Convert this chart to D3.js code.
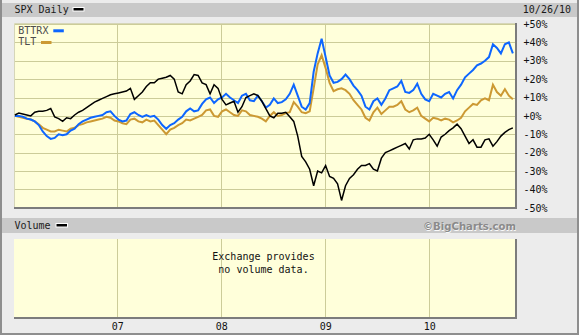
<!DOCTYPE html>
<html>
<head>
<meta charset="utf-8">
<script src="https://cdn.jsdelivr.net/npm/d3@7"></script>
<style>
  html, body { margin: 0; padding: 0; background: #ececec; }
  svg { display: block; }
</style>
</head>
<body>
<svg id="chart" width="579" height="335"></svg>
<script>
// Percent change since the first bar, one reading every two weeks.
const spx = [
  0.5, 1.5, 1, 0.5, 0, 2, 2.5, 2.5, 3, 4,
  -0.5, -1.5, -3, -1, -1.5, 0.5, 2, 3, 4.5, 6,
  7.5, 8.5, 9.5, 10.5, 11.5, 12, 12.5, 13, 13.5, 15,
  9, 11, 13,
  16, 18, 18, 20, 20.5, 21, 22, 20, 13, 12,
  17, 19, 22.5, 22, 18, 17, 12, 17, 15, 9,
  6, 7, 8, 2, 5, 10, 11, 12, 11, 8,
  4,
  0, -1, 1.5, 1.5, 2, -0.5, -3, -11, -22, -25,
  -29, -38, -30, -31, -27, -33, -34, -37, -46, -38,
  -34, -32, -29, -27, -27, -26, -29, -30, -23, -20,
  -19,
  -18, -17, -16, -15, -18, -13, -12.5, -12.5, -12, -10,
  -13, -16.5, -11.5, -10, -8, -6.5, -4.5, -7, -11, -15,
  -13, -17, -17, -13, -12.5, -16.5, -14, -11, -9, -7.5,
  -6.5
];
const bttrx = [
  0, 0, -0.5, -1.5, -2, -3, -5, -8.5, -11, -12.5,
  -12, -10, -10.5, -10, -8, -7, -4.5, -3, -2, -1,
  -0.5, 0, 0.5, 2, 2.5, 0, -2, -3, -2.5, 1,
  2, 0.5, -0.5,
  0.5, -0.5, 0, -2, -5, -7, -5, -4, -2, -0.5,
  2.5, 4, 2.5, 3, 6.5, 9, 10, 7, 9, 10,
  12, 10, 8.5, 7, 11, 12, 8.5, 8, 11, 8,
  4.5,
  6, 9.5, 7, 7.5, 9, 12, 17, 11, 5, 3.5,
  7, 24, 34, 42, 32, 22, 18, 18.5, 20, 22.5,
  20, 16.5, 14, 11, 5, 3.5, 8, 9.5, 6, 9.5,
  14,
  15, 16, 19, 13, 12.5, 14, 17.5, 12, 9, 8,
  12, 11, 10, 12, 13, 9.5, 14, 17, 21, 23,
  25, 27.5, 28.5, 30, 32, 39, 37, 34, 39, 40,
  34
];
const tlt = [
  0, -0.5, -1, -1.5, -2, -3, -4.5, -6.5, -7.5, -8.5,
  -8.5, -7.5, -8, -8.5, -7, -6.5, -5, -4.5, -3.5, -3,
  -2.5, -2, -1.5, -0.5, -1, -2.5, -3, -4, -4.5, -2,
  -1.5, -3, -3.5,
  -2, -3, -2.5, -5, -7.5, -10, -7.5, -6.5, -5, -4,
  -2, -2.5, -1.5, -0.5, 0.5, 3, 3.5, 0, -0.5, 2.5,
  3.5, 2, 0.5, 0, 3, 2.5, 0.5, 0, -0.5, -1.5,
  -3,
  0, 2, 0, 0.5, 1.5, 2, 7.5, 5, 2, 1.5,
  2.5, 15, 28, 33, 26, 18, 13.5, 14.5, 15, 14,
  12, 8.5, 6, 3.5, -1, -2.5, 2, 4.5, 1, 3,
  5,
  5, 6, 8, 3.5, 2, 3, 4.5, 0, -1.5, -3,
  -1, -1.5, -2.5, -1.5, -2, -3.5, -2.5, -1, 2.5, 4.5,
  6.5, 6, 8.5, 9.5, 8.5, 17, 13, 11, 14.5, 11,
  9
];

const seriesNames = ["TLT", "BTTRX", "SPX"];
const seriesColors = ["#cc9933", "#0d66ff", "#000000"];
const seriesWidths = [2, 2, 1.5];

const firstDate = "2006-01-06";
const stepDays = 14;
const rangeStart = "2006-01-03";
const rangeEnd = "2010-10-26";
const asOfLabel = "10/26/10";

const yTicks = [50, 40, 30, 20, 10, 0, -10, -20, -30, -40, -50];
const yearTicks = ["2007-01-01", "2008-01-01", "2009-01-01", "2010-01-01"];
const yearLabels = ["07", "08", "09", "10"];

const parse = d3.utcParse("%Y-%m-%d");
const dates = spx.map((_, i) => d3.utcDay.offset(parse(firstDate), i * stepDays));
const tickDates = yearTicks.map(parse);

const W = 579, H = 335;
const plot = { left: 14, right: 516, top: 23, bottom: 208 };
const vol = { top: 239, bottom: 318 };

const x = d3.scaleUtc().domain([parse(rangeStart), parse(rangeEnd)]).range([14, 514]);
const y = d3.scaleLinear().domain([-50, 50]).range([207.8, 24]);

const svg = d3.select("#chart");
const mono = "'DejaVu Sans Mono', monospace";
const crisp = v => Math.round(v) + 0.5;

// page background and outer frame
svg.append("rect").attr("width", W).attr("height", H).attr("fill", "#ececec");
svg.append("path")
  .attr("d", `M1,0 V${H - 1} H${W - 1} V0`)
  .attr("fill", "none").attr("stroke", "#8e8e8e").attr("stroke-width", 2);

// title band
svg.append("rect").attr("x", 2).attr("y", 3).attr("width", W - 4).attr("height", 14).attr("fill", "#c9c9c9");
svg.append("text").attr("x", 14.5).attr("y", 13.3)
  .attr("font-family", mono).attr("font-size", 10).attr("fill", "#1a1a1a").text("SPX Daily");
svg.append("rect").attr("x", 73).attr("y", 7.5).attr("width", 11).attr("height", 3.5)
  .attr("fill", "#000").attr("stroke", "#fff").attr("stroke-width", 1);
svg.append("text").attr("x", 571).attr("y", 13).attr("text-anchor", "end")
  .attr("font-family", mono).attr("font-size", 10).attr("fill", "#1a1a1a").text(asOfLabel);

// price panel
svg.append("rect").attr("x", plot.left).attr("y", plot.top)
  .attr("width", plot.right - plot.left).attr("height", plot.bottom - plot.top)
  .attr("fill", "#ffffda");

const grid = svg.append("g").attr("stroke", "#cccc99").attr("stroke-width", 1);
grid.selectAll("line.h").data(yTicks.filter(d => d > -50)).join("line")
  .attr("x1", plot.left).attr("x2", plot.right)
  .attr("y1", d => crisp(y(d))).attr("y2", d => crisp(y(d)));
grid.selectAll("line.v").data(tickDates).join("line")
  .attr("x1", d => crisp(x(d))).attr("x2", d => crisp(x(d)))
  .attr("y1", plot.top).attr("y2", plot.bottom);

svg.append("path")
  .attr("d", `M${plot.left + 0.5},${plot.bottom} V${plot.top + 0.5} H${plot.right}`)
  .attr("fill", "none").attr("stroke", "#d6d6b8").attr("stroke-width", 1);

svg.append("clipPath").attr("id", "plot-clip").append("rect")
  .attr("x", plot.left).attr("y", plot.top)
  .attr("width", plot.right - plot.left).attr("height", plot.bottom - plot.top);

const seriesValues = [tlt, bttrx, spx];
const line = d3.line().x((d, i) => x(dates[i])).y(d => y(d));
svg.append("g").attr("clip-path", "url(#plot-clip)")
  .selectAll("path").data(seriesValues).join("path")
  .attr("d", d => line(d))
  .attr("fill", "none")
  .attr("stroke", (d, i) => seriesColors[i])
  .attr("stroke-width", (d, i) => seriesWidths[i])
  .attr("stroke-linejoin", "miter");

svg.append("path")
  .attr("d", `M${plot.left},${plot.bottom} H${plot.right} V${plot.top}`)
  .attr("fill", "none").attr("stroke", "#7c7c7c").attr("stroke-width", 2);

// legend
const legend = [
  { name: seriesNames[1], color: seriesColors[1], tx: 18.3, ty: 34, sx: 53.3, sy: 29.3 },
  { name: seriesNames[0], color: seriesColors[0], tx: 18.3, ty: 45, sx: 41, sy: 41 }
];
legend.forEach(l => {
  svg.append("text").attr("x", l.tx).attr("y", l.ty)
    .attr("font-family", mono).attr("font-size", 10).attr("fill", "#4d4d4d").text(l.name);
  svg.append("rect").attr("x", l.sx).attr("y", l.sy).attr("width", 10.5).attr("height", 3)
    .attr("fill", l.color);
});

// percent axis on the right
const yAxis = d3.axisRight(y).tickValues(yTicks).tickSize(0).tickPadding(0)
  .tickFormat(d => (d >= 0 ? "+" : "-") + Math.abs(d) + "%");
const yg = svg.append("g").attr("transform", "translate(523.5,0)").call(yAxis);
yg.select(".domain").remove();
yg.selectAll("text").attr("font-family", mono).attr("font-size", 10).attr("fill", "#111");

// volume band
svg.append("rect").attr("x", 2).attr("y", 218).attr("width", W - 4).attr("height", 15).attr("fill", "#c9c9c9");
svg.append("text").attr("x", 14.5).attr("y", 229.3)
  .attr("font-family", mono).attr("font-size", 10).attr("fill", "#1a1a1a").text("Volume");
svg.append("rect").attr("x", 56).attr("y", 223.5).attr("width", 11.5).attr("height", 3.5)
  .attr("fill", "#000").attr("stroke", "#fff").attr("stroke-width", 1);
svg.append("text").attr("x", 516.5).attr("y", 230.8).attr("text-anchor", "end")
  .attr("font-family", "'DejaVu Sans', sans-serif").attr("font-weight", "bold")
  .attr("font-size", 10.5).attr("fill", "#fafafa")
  .attr("textLength", 93).attr("lengthAdjust", "spacingAndGlyphs").text("©BigCharts.com");
svg.append("text").attr("x", 516).attr("y", 230.3).attr("text-anchor", "end")
  .attr("font-family", "'DejaVu Sans', sans-serif").attr("font-weight", "bold")
  .attr("font-size", 10.5).attr("fill", "#8a8a8a")
  .attr("textLength", 93).attr("lengthAdjust", "spacingAndGlyphs").text("©BigCharts.com");

// volume panel
svg.append("rect").attr("x", plot.left).attr("y", vol.top)
  .attr("width", plot.right - plot.left).attr("height", vol.bottom - vol.top)
  .attr("fill", "#ffffda");
svg.append("g").attr("stroke", "#cccc99").attr("stroke-width", 1)
  .selectAll("line").data(tickDates).join("line")
  .attr("x1", d => crisp(x(d))).attr("x2", d => crisp(x(d)))
  .attr("y1", vol.top).attr("y2", vol.bottom);
svg.append("path")
  .attr("d", `M${plot.left},${vol.bottom} H${plot.right} V${vol.top}`)
  .attr("fill", "none").attr("stroke", "#7c7c7c").attr("stroke-width", 2);

const note = ["Exchange provides", "no volume data."];
svg.append("g").selectAll("text").data(note).join("text")
  .attr("x", 263.5).attr("y", (d, i) => 260 + i * 13)
  .attr("text-anchor", "middle")
  .attr("font-family", mono).attr("font-size", 10).attr("fill", "#111")
  .text(d => d);

// year axis
const xAxis = d3.axisBottom(x).tickValues(tickDates).tickSize(0).tickPadding(4.4)
  .tickFormat((d, i) => yearLabels[i]);
const xg = svg.append("g").attr("transform", `translate(0,${vol.bottom})`).call(xAxis);
xg.select(".domain").remove();
xg.selectAll("text").attr("font-family", mono).attr("font-size", 10).attr("fill", "#111");
</script>
</body>
</html>
